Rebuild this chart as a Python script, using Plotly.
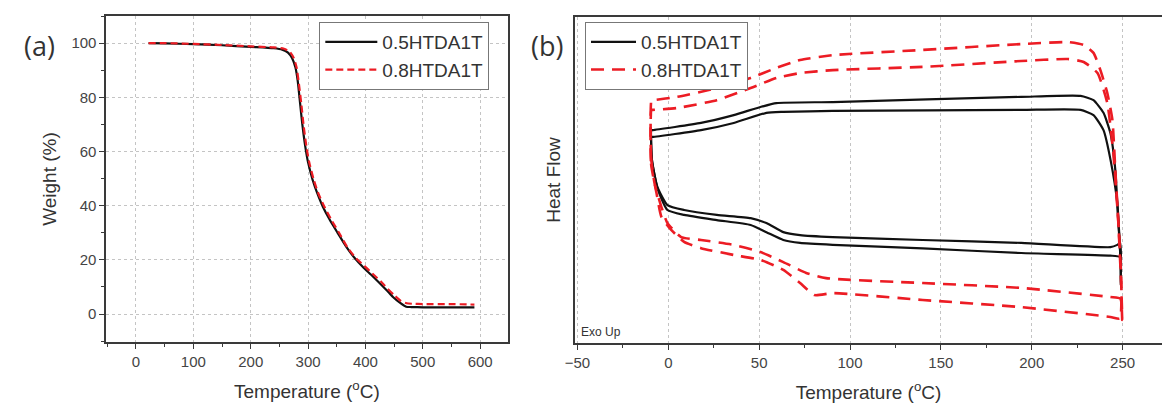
import plotly.graph_objects as go

# ---------------- Panel (a): TGA ----------------
tga_T_05 = [22, 50, 100, 150, 200, 240, 255, 265, 272, 278, 282, 286, 290, 295, 300, 308, 316, 326, 338, 352,
            367, 382, 396, 410, 425, 437, 448, 460, 471, 480, 500, 550, 590]
tga_W_05 = [100, 99.9, 99.6, 99.2, 98.6, 98.1, 97.6, 96.5, 94.5, 91, 86, 78, 70, 62, 56, 49.5, 44.6, 39.5, 34.7, 29.8,
            24.7, 20.5, 17.3, 14.5, 11.4, 8.8, 6.3, 4.2, 2.7, 2.6, 2.5, 2.5, 2.5]
tga_T_08 = [22, 50, 100, 150, 200, 240, 258, 268, 275, 280, 284, 288, 292, 297, 302, 310, 318, 328, 340, 354,
            369, 384, 398, 412, 427, 439, 450, 462, 472, 482, 500, 550, 590]
tga_W_08 = [100, 100, 99.7, 99.3, 98.8, 98.4, 97.9, 96.8, 94.5, 91, 85, 78, 70, 62, 56, 49.5, 44.5, 39.8, 35, 30,
            24.5, 20.5, 17.8, 15, 12, 9.3, 7, 4.8, 4.0, 3.8, 3.7, 3.7, 3.5]

# ---------------- Panel (b): DSC loops (arbitrary heat-flow units) ----------------
# 0.5HTDA1T, cycle 1 (lower branch left->right, then upper branch right->left)
dsc05_c1_T = [-9.3, -9.0, -6.0, -0.5, 8.7, 26.7, 45.3, 54.0, 63.3, 72.5, 90.5, 140, 194.2, 243.3, 247.1, 248.7,
              249.0, 248.7, 247.6, 246.0, 243.3, 239.5, 234.0, 226.9, 194.2, 90.5, 59.5, 50.7, 36.0, 18.0, -8.6, -9.3]
dsc05_c1_H = [65.3, 56.1, 47.9, 42.3, 40.8, 39.3, 38.3, 36.8, 34.0, 33.1, 32.5, 31.6, 30.7, 29.4, 30.1, 30.7,
              17.8, 27.6, 37.7, 53.1, 64.4, 70.6, 74.5, 75.8, 75.5, 73.9, 73.6, 72.4, 69.9, 67.5, 65.3, 65.3]
# 0.5HTDA1T, cycle 2
dsc05_c2_T = [-9.3, -9.0, -6.0, -0.5, 8.7, 26.7, 45.3, 54.0, 63.3, 72.5, 90.5, 140, 194.2, 243.3, 248.7,
              249.0, 248.7, 247.1, 243.4, 239.5, 234.0, 226.9, 194.2, 90.5, 63.3, 54.0, 36.0, 18.0, -8.6, -9.3]
dsc05_c2_H = [63.2, 56.1, 47.5, 40.8, 39.3, 37.7, 36.2, 34.0, 31.6, 30.7, 30.1, 29.0, 27.6, 26.8, 26.4,
              24.0, 27.6, 42.9, 56.1, 65.3, 69.9, 71.5, 71.5, 71.2, 70.9, 70.6, 67.5, 65.3, 63.2, 63.2]
# 0.8HTDA1T, cycle 1
dsc08_c1_T = [-9.3, -9.5, -7.6, -3.8, -0.5, 7.1, 18.0, 36.0, 50.7, 63.3, 75.9, 86.8, 140, 194.2, 243.3, 248.8,
              249.8, 249.3, 247.6, 246.0, 244.4, 241.6, 237.8, 234.0, 228.6, 219.9, 194.2, 140, 90.5, 72.5,
              59.5, 45.3, 26.7, 4.9, -8.6, -9.3]
dsc08_c1_H = [74.5, 57.1, 49.1, 41.7, 36.8, 32.5, 31.6, 30.1, 27.9, 24.8, 21.5, 19.9, 18.4, 16.9, 14.1, 13.6,
              7.1, 17.2, 37.7, 53.1, 68.4, 76.7, 83.7, 89.0, 91.4, 92.3, 91.7, 89.9, 88.3, 86.8,
              84.4, 81.3, 78.2, 75.5, 74.5, 74.5]
# 0.8HTDA1T, cycle 2
dsc08_c2_T = [-9.3, -9.5, -6.5, -3.8, 1.6, 8.7, 18.0, 36.0, 50.7, 63.3, 72.5, 80.5, 90.5, 140, 194.2, 243.3, 248.5,
              249.3, 247.6, 244.9, 241.6, 236.2, 228.6, 219.9, 194.2, 140, 90.5, 72.5, 59.5, 45.3, 26.7, 4.9,
              -8.6, -9.3]
dsc08_c2_H = [71.5, 55.0, 46.0, 38.7, 34.7, 31.0, 29.1, 27.0, 25.5, 22.4, 18.4, 14.7, 15.3, 13.2, 11.0, 8.0, 7.5,
              18.4, 37.7, 58.3, 73.6, 82.8, 86.2, 87.1, 86.5, 84.7, 83.7, 82.8, 81.3, 78.2, 74.5, 72.1,
              71.5, 71.5]

BLACK = "#111111"
RED = "#ec1c24"
AXC = "#3a3a3a"
FONT = "Liberation Sans"

fig = go.Figure()

fig.add_trace(go.Scatter(x=tga_T_05, y=tga_W_05, mode="lines", name="0.5HTDA1T",
                         line=dict(color=BLACK, width=2.2, shape="spline", smoothing=0.6),
                         xaxis="x", yaxis="y", legend="legend"))
fig.add_trace(go.Scatter(x=tga_T_08, y=tga_W_08, mode="lines", name="0.8HTDA1T",
                         line=dict(color=RED, width=2.2, dash="7px,4px", shape="spline", smoothing=0.6),
                         xaxis="x", yaxis="y", legend="legend"))

for i, (tx, hy) in enumerate([(dsc05_c1_T, dsc05_c1_H), (dsc05_c2_T, dsc05_c2_H)]):
    fig.add_trace(go.Scatter(x=tx, y=hy, mode="lines", name="0.5HTDA1T", legendgroup="b05",
                             showlegend=(i == 0),
                             line=dict(color=BLACK, width=2.2, shape="spline", smoothing=0.5),
                             xaxis="x2", yaxis="y2", legend="legend2"))
for i, (tx, hy) in enumerate([(dsc08_c1_T, dsc08_c1_H), (dsc08_c2_T, dsc08_c2_H)]):
    fig.add_trace(go.Scatter(x=tx, y=hy, mode="lines", name="0.8HTDA1T", legendgroup="b08",
                             showlegend=(i == 0),
                             line=dict(color=RED, width=2.6, dash="13px,8px", shape="spline", smoothing=0.5),
                             xaxis="x2", yaxis="y2", legend="legend2"))

W, H = 1162, 409
ydom = [1 - 342 / H, 1 - 16 / H]

common_axis = dict(showline=True, linecolor=AXC, linewidth=1.5, ticks="outside", ticklen=5,
                   tickcolor=AXC, tickwidth=1.2, zeroline=False,
                   tickfont=dict(family=FONT, size=15, color="#444444"),
                   gridcolor="#c4c4c4", griddash="dot", gridwidth=1)

fig.update_layout(
    width=W, height=H,
    margin=dict(l=0, r=0, t=0, b=0),
    paper_bgcolor="white", plot_bgcolor="white",
    font=dict(family=FONT, color="#333333"),
    xaxis=dict(domain=[97 / W, 502 / W], range=[-52, 648], tickvals=[0, 100, 200, 300, 400, 500, 600],
               mirror=True, showgrid=True, anchor="y",
               minor=dict(dtick=50, tick0=0, ticks="outside", ticklen=3, tickcolor=AXC, showgrid=False),
               title=dict(text="Temperature (<sup>o</sup>C)", font=dict(family=FONT, size=19, color="#333"),
                          standoff=16),
               **common_axis),
    yaxis=dict(domain=ydom, range=[-10.3, 110], tickvals=[0, 20, 40, 60, 80, 100],
               mirror=True, showgrid=True, anchor="x",
               minor=dict(dtick=10, tick0=0, ticks="outside", ticklen=3, tickcolor=AXC, showgrid=False),
               title=dict(text="Weight (%)", font=dict(family=FONT, size=19, color="#333"), standoff=10),
               **common_axis),
    xaxis2=dict(domain=[570 / W, 1.0], range=[-51.3, 271.7], tickvals=[-50, 0, 50, 100, 150, 200, 250],
                mirror=True, showgrid=True, anchor="y2",
                minor=dict(dtick=25, tick0=0, ticks="outside", ticklen=3, tickcolor=AXC, showgrid=False),
                title=dict(text="Temperature (<sup>o</sup>C)", font=dict(family=FONT, size=19, color="#333"),
                           standoff=16),
                **common_axis),
    yaxis2=dict(domain=[1 - 343 / H, 1 - 17 / H], range=[0, 100], showline=True, linecolor=AXC, linewidth=1.5,
                showticklabels=False, ticks="", showgrid=False, zeroline=False, anchor="x2",
                title=dict(text="Heat Flow", font=dict(family=FONT, size=19, color="#333"), standoff=8)),
    legend=dict(x=312 / W, y=1 - 22 / H, xanchor="left", yanchor="top", bgcolor="white",
                bordercolor="#777777", borderwidth=1, font=dict(family=FONT, size=19, color="#333"),
                tracegroupgap=0, itemwidth=52),
    legend2=dict(x=580 / W, y=1 - 22 / H, xanchor="left", yanchor="top", bgcolor="white",
                 bordercolor="#777777", borderwidth=1, font=dict(family=FONT, size=19, color="#333"),
                 tracegroupgap=0, itemwidth=45),
    showlegend=True,
)

fig.add_annotation(text="(a)", x=30 / W, y=1 - 45 / H, xref="paper", yref="paper", showarrow=False,
                   font=dict(family="Open Sans", size=27, color="#333"), xanchor="center", yanchor="middle")
fig.add_annotation(text="(b)", x=542 / W, y=1 - 45 / H, xref="paper", yref="paper", showarrow=False,
                   font=dict(family="Open Sans", size=27, color="#333"), xanchor="center", yanchor="middle")
fig.add_annotation(text="Exo Up", x=-49, y=0.5, xref="x2", yref="y2", showarrow=False,
                   font=dict(family=FONT, size=12, color="#333"), xanchor="left", yanchor="bottom")

fig.write_html("out.html", config={"displayModeBar": False},
               post_script="document.body.style.margin='0px';document.body.style.overflow='hidden';")
